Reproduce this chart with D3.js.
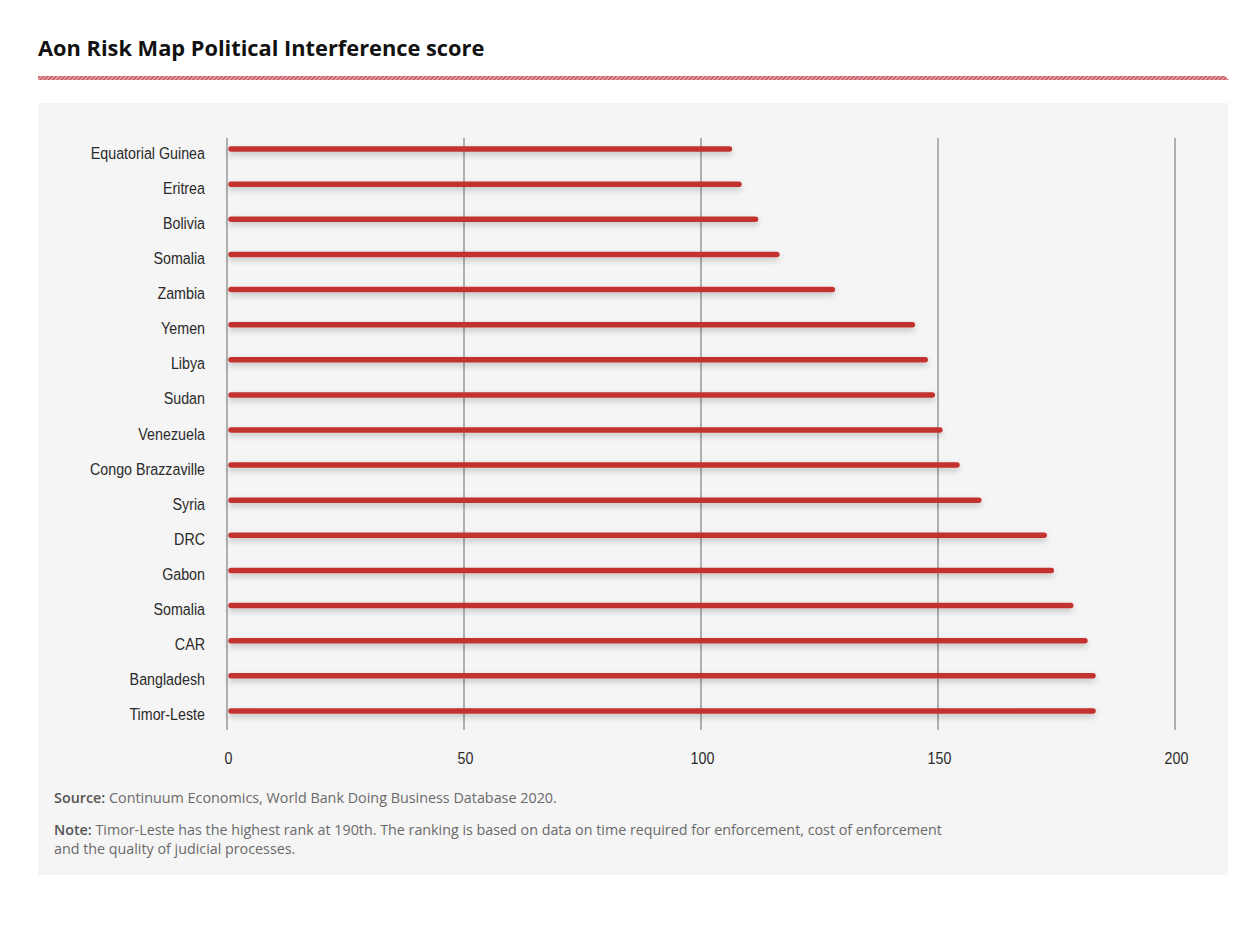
<!DOCTYPE html>
<html><head><meta charset="utf-8">
<script src="https://cdn.jsdelivr.net/npm/d3@7/dist/d3.min.js"></script>
<style>
body{margin:0;background:#fff;}
svg{display:block;}
</style></head>
<body>
<svg id="chart" width="1242" height="931"></svg>
<script>
const categories = ["Equatorial Guinea","Eritrea","Bolivia","Somalia","Zambia","Yemen","Libya","Sudan","Venezuela","Congo Brazzaville","Syria","DRC","Gabon","Somalia","CAR","Bangladesh","Timor-Leste"];
const scores = [106,108,111.5,116,127.7,144.6,147.3,148.8,150.4,154,158.6,172.4,173.9,178,181,182.7,182.7];
const tickValues = [0,50,100,150,200];
const titleText = "Aon Risk Map Political Interference score";
const sourceText = ["Source:", " Continuum Economics, World Bank Doing Business Database 2020."];
const noteText = ["Note:", " Timor-Leste has the highest rank at 190th. The ranking is based on data on time required for enforcement, cost of enforcement", "and the quality of judicial processes."];

const svg = d3.select("#chart");
const defs = svg.append("defs");
const pat = defs.append("pattern").attr("id","hatch").attr("patternUnits","userSpaceOnUse")
  .attr("width",3).attr("height",3).attr("patternTransform","rotate(45)");
pat.append("rect").attr("width",3).attr("height",3).attr("fill","#e6b3b6");
pat.append("rect").attr("width",1.6).attr("height",3).attr("fill","#c9505a");
const f = defs.append("filter").attr("id","shadow").attr("x","-5%").attr("y","-300%").attr("width","110%").attr("height","700%");
f.append("feDropShadow").attr("dx",0).attr("dy",3).attr("stdDeviation",3.2).attr("flood-color","#000").attr("flood-opacity",0.22);

// title
svg.append("text").attr("x",38).attr("y",56).text(titleText)
  .attr("font-family","'Open Sans', sans-serif").attr("font-weight",700).attr("font-size",21.8).attr("fill","#111");
// hatched rule
svg.append("path").attr("d","M38,76 L1225,76 L1229,80 L38,80 Z").attr("fill","url(#hatch)");

// panel
svg.append("rect").attr("x",38).attr("y",103).attr("width",1190).attr("height",772).attr("fill","#f5f5f5");

const x = d3.scaleLinear().domain([0,200]).range([227,1175]);
const y = d3.scaleBand().domain(d3.range(categories.length)).range([131.5,728.5]);

// grid lines
svg.append("g").selectAll("line").data(tickValues).join("line")
  .attr("x1",d=>x(d)).attr("x2",d=>x(d)).attr("y1",138).attr("y2",730)
  .attr("stroke","#8a8a8a").attr("stroke-width",1.3);

// bars
svg.append("g").attr("filter","url(#shadow)").selectAll("line").data(scores).join("line")
  .attr("x1",x(0)+4).attr("x2",d=>x(d)).attr("y1",(d,i)=>y(i)+y.bandwidth()/2).attr("y2",(d,i)=>y(i)+y.bandwidth()/2)
  .attr("stroke","#c3302d").attr("stroke-width",5.5).attr("stroke-linecap","round");

const labelFont = "'Liberation Sans', sans-serif";
const sx = 0.84;
// category labels
svg.append("g").selectAll("text").data(categories).join("text")
  .attr("transform",(d,i)=>`translate(205,${y(i)+y.bandwidth()/2+9.5}) scale(${sx},1)`)
  .attr("text-anchor","end")
  .attr("font-family",labelFont).attr("font-size",17).attr("fill","#2a2a2a").text(d=>d);

// axis tick labels
const axis = d3.axisBottom(x).tickValues(tickValues).tickSize(0).tickPadding(0);
const ag = svg.append("g").attr("transform","translate(0,752)").call(axis);
ag.select(".domain").remove();
ag.selectAll(".tick text").attr("y",0).attr("dy",0)
  .attr("transform",`translate(1,12) scale(${sx},1)`)
  .attr("font-family",labelFont).attr("font-size",17).attr("fill","#2a2a2a");

// footer
const ft = "'Open Sans', sans-serif";
const s = svg.append("text").attr("x",54).attr("y",803).attr("font-family",ft).attr("font-size",14.35).attr("fill","#6a6a6a");
s.append("tspan").attr("font-weight",600).attr("fill","#555").text(sourceText[0]);
s.append("tspan").text(sourceText[1]);
const n = svg.append("text").attr("x",54).attr("y",835).attr("font-family",ft).attr("font-size",14.3).attr("fill","#6a6a6a");
n.append("tspan").attr("font-weight",600).attr("fill","#555").text(noteText[0]);
n.append("tspan").text(noteText[1]);
svg.append("text").attr("x",54).attr("y",854).attr("font-family",ft).attr("font-size",14.3).attr("fill","#6a6a6a").text(noteText[2]);
</script>
</body></html>
